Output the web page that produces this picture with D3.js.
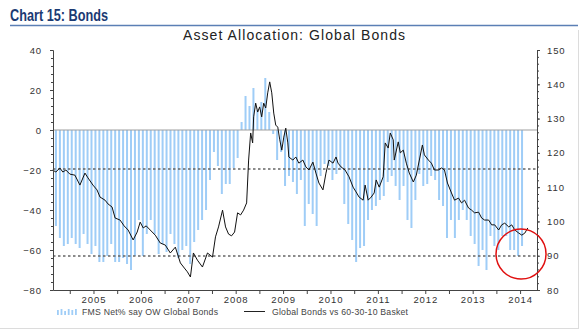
<!DOCTYPE html>
<html><head><meta charset="utf-8">
<script src="https://cdn.jsdelivr.net/npm/d3@7/dist/d3.min.js"></script>
<style>
body{margin:0;background:#fff}
svg{display:block}
text{font-family:"Liberation Sans",Arial,Helvetica,sans-serif}
</style>
</head><body>
<svg id="chart" width="583" height="333"></svg>
<script>
// ---------------- DATA ----------------
const headerText = "Chart 15: Bonds";
const titleText = "Asset Allocation: Global Bonds";
const barSeriesName = "FMS Net% say OW Global Bonds";
const lineSeriesName = "Global Bonds vs 60-30-10 Basket";

// monthly FMS net % overweight bonds, first survey ~Sep 2004
const fmsStart = 2004.708;
const fmsValues = [
  -48,-54,-58,-57,-54,-57,-59,-52,-57,-62,-58,-66,-66,-63,-57,-66,-66,-64,-67,-70,
  -63,-45,-63,-52,-45,-52,-62,-57,-61,-52,-57,-64,-60,-58,-67,-56,-50,-45,-40,
  -25,-11,-18,-32,-27,-27,-19,-14,4,17,12,21,10,14,26,9,-2,-15,-11,-28,
  -23,-26,-32,-25,-48,-37,-42,-48,-23,-17,-18,-25,-22,-20,-37,-47,-55,-66,-59,-58,
  -45,-40,-38,-35,-33,-26,-23,-28,-35,-28,-45,-49,-35,-22,-28,-27,-23,-25,-35,-38,
  -54,-45,-54,-45,-40,-45,-53,-57,-68,-60,-70,-53,-58,-60,-53,-53,-60,-60,-63,-58
];

// Global Bonds vs 60-30-10 basket (right axis)
const lineDates = [
  2004.642,2004.706,2004.790,2004.854,2004.917,2005.002,2005.108,2005.214,2005.320,2005.384,
  2005.489,2005.574,2005.638,2005.744,2005.807,2005.892,2005.956,2006.061,2006.146,2006.231,
  2006.337,2006.422,2006.485,2006.549,2006.612,2006.697,2006.803,2006.909,2007.015,2007.121,
  2007.227,2007.333,2007.417,2007.481,2007.545,2007.608,2007.693,2007.799,2007.905,2008.011,
  2008.074,2008.138,2008.223,2008.286,2008.350,2008.413,2008.477,2008.540,2008.604,2008.667,
  2008.731,2008.773,2008.816,2008.858,2008.879,2008.922,2008.964,2009.006,2009.049,2009.091,
  2009.134,2009.176,2009.218,2009.261,2009.303,2009.345,2009.388,2009.430,2009.473,2009.515,
  2009.557,2009.600,2009.621,2009.706,2009.769,2009.833,2009.917,2009.981,2010.045,2010.129,
  2010.193,2010.256,2010.341,2010.405,2010.468,2010.553,2010.617,2010.659,2010.723,2010.807,
  2010.892,2010.977,2011.040,2011.104,2011.189,2011.231,2011.295,2011.358,2011.422,2011.464,
  2011.528,2011.612,2011.655,2011.718,2011.761,2011.824,2011.845,2011.930,2011.973,2012.036,
  2012.100,2012.163,2012.248,2012.311,2012.375,2012.439,2012.481,2012.566,2012.629,2012.693,
  2012.778,2012.841,2012.905,2012.968,2013.053,2013.117,2013.201,2013.265,2013.328,2013.413,
  2013.477,2013.540,2013.625,2013.689,2013.752,2013.837,2013.900,2013.964,2014.049,2014.112,
  2014.176,2014.261,2014.324,2014.388,2014.473,2014.536,2014.600,2014.663
];
const lineValues = [
  115.0,114.4,115.6,114.4,115.0,113.8,113.5,110.6,114.1,112.7,
  110.6,109.2,107.1,106.2,105.1,104.2,101.0,100.4,98.7,97.5,
  94.6,96.9,99.8,98.1,98.7,97.5,96.0,93.7,93.1,90.8,
  92.5,87.9,86.4,85.3,83.8,90.8,88.7,86.7,90.8,89.6,
  95.5,98.4,103.3,98.4,96.3,95.8,96.9,102.5,101.9,103.3,
  105.4,117.9,125.8,122.9,130.5,134.5,131.9,133.4,130.5,134.5,
  133.1,137.5,140.7,137.5,131.6,128.1,127.5,123.8,120.8,124.6,
  127.2,122.9,118.8,117.9,118.8,117.0,117.9,115.9,115.0,117.3,
  114.1,111.2,109.2,114.1,117.9,117.0,118.8,117.0,115.9,115.0,
  113.0,110.0,108.6,107.1,106.2,110.6,106.2,107.1,108.3,112.1,
  110.0,113.0,122.9,121.4,125.8,123.8,117.9,123.2,120.0,120.8,
  117.0,114.1,111.5,113.5,117.9,122.3,119.4,117.9,117.0,115.0,
  115.0,115.6,115.0,111.2,108.3,106.2,106.8,105.4,106.2,103.9,
  103.3,102.5,102.7,101.0,100.4,100.4,99.0,99.0,97.5,99.0,
  99.5,98.4,99.0,97.5,96.6,96.0,96.6,98.1
];

const leftTicks = [-80,-60,-40,-20,0,20,40];
const rightTicks = [80,90,100,110,120,130,140,150];
const yearLabels = [2005,2006,2007,2008,2009,2010,2011,2012,2013,2014];
const refLevels = [-19.5,-63];          // dotted guide lines (left axis units)
const highlight = {year:2014.52, value:-62}; // red circle annotation

// ---------------- LAYOUT ----------------
const svg = d3.select("#chart");
const L = 53, R = 537, T = 50, B = 290;

const x = d3.scaleLinear().domain([2004.646, 2014.857]).range([L, R]);
const yL = d3.scaleLinear().domain([-80, 40]).range([B, T]);
const yR = d3.scaleLinear().domain([80, 150]).range([B, T]);

// header
svg.append("text").attr("x",10).attr("y",20.5)
  .attr("font-size",16.5).attr("font-weight","bold").attr("fill","#1b3a73")
  .attr("textLength",98).attr("lengthAdjust","spacingAndGlyphs")
  .text(headerText);
svg.append("line").attr("x1",10).attr("x2",578).attr("y1",25.5).attr("y2",25.5)
  .attr("stroke","#5b7fb5").attr("stroke-width",1.5);

// frame lines
svg.append("line").attr("x1",0).attr("x2",578).attr("y1",328.5).attr("y2",328.5)
  .attr("stroke","#dcdcdc").attr("stroke-width",1);
svg.append("line").attr("x1",578.5).attr("x2",578.5).attr("y1",30).attr("y2",329)
  .attr("stroke","#dcdcdc").attr("stroke-width",1);

// title
svg.append("text").attr("x",183).attr("y",40)
  .attr("font-size",14).attr("fill","#222")
  .attr("textLength",222).attr("lengthAdjust","spacing")
  .text(titleText);

// bars
const bars = fmsValues.map((v,i)=>({date: fmsStart + i/12, v}));
svg.append("g").selectAll("rect").data(bars).join("rect")
  .attr("x", d => x(d.date) - 1)
  .attr("width", 2)
  .attr("y", d => yL(Math.max(0, d.v)))
  .attr("height", d => Math.abs(yL(d.v) - yL(0)))
  .attr("fill", "#9fcdf7");

// zero line
svg.append("line").attr("x1",L).attr("x2",R).attr("y1",yL(0)).attr("y2",yL(0))
  .attr("stroke","#a0a0a0").attr("stroke-width",1.2);

// dotted guides
svg.append("g").selectAll("line").data(refLevels).join("line")
  .attr("x1",L).attr("x2",R).attr("y1",d=>yL(d)).attr("y2",d=>yL(d))
  .attr("stroke","#666").attr("stroke-width",1.3).attr("stroke-dasharray","2.5,2.5");

// line series
const lineData = lineDates.map((d,i)=>({date:d, v:lineValues[i]}));
svg.append("path").datum(lineData)
  .attr("fill","none").attr("stroke","#111").attr("stroke-width",1)
  .attr("stroke-linejoin","round")
  .attr("d", d3.line().x(d=>x(d.date)).y(d=>yR(d.v)));

// axes
function styleAxis(g){
  g.select(".domain").attr("stroke","#444");
  g.selectAll(".tick line").attr("stroke","#444");
  g.selectAll("text").attr("fill","#333").attr("font-size",9.5)
    .attr("letter-spacing","0.9px")
    .attr("font-family","'Liberation Sans',Arial,sans-serif");
}
// left
svg.append("g").attr("transform",`translate(${L},0)`)
  .call(d3.axisLeft(yL).tickValues(d3.range(-80,41,4)).tickSize(2).tickFormat("").tickSizeOuter(0))
  .call(styleAxis);
svg.append("g").attr("transform",`translate(${L},0)`)
  .call(d3.axisLeft(yL).tickValues(leftTicks).tickSize(3).tickPadding(8).tickSizeOuter(0))
  .call(styleAxis);
// right
svg.append("g").attr("transform",`translate(${R},0)`)
  .call(d3.axisRight(yR).tickValues(d3.range(80,151,2)).tickSize(2).tickFormat("").tickSizeOuter(0))
  .call(styleAxis);
svg.append("g").attr("transform",`translate(${R},0)`)
  .call(d3.axisRight(yR).tickValues(rightTicks).tickSize(3).tickPadding(7).tickSizeOuter(0))
  .call(styleAxis);
// bottom
const halfYears = d3.range(2005, 2014.51, 0.5);
svg.append("g").attr("transform",`translate(0,${B})`)
  .call(d3.axisBottom(x).tickValues(halfYears).tickSize(4).tickFormat("").tickSizeOuter(0))
  .call(styleAxis);
svg.append("g").attr("transform",`translate(0,${B})`)
  .call(d3.axisBottom(x).tickValues(yearLabels.map(y=>y+0.5)).tickSize(0).tickPadding(6)
        .tickFormat(d=>String(Math.floor(d))).tickSizeOuter(0))
  .call(styleAxis)
  .call(g=>g.select(".domain").remove());

// legend
const lg = svg.append("g");
const legendBars = [5,6,4,6,5,6];
lg.selectAll("rect").data(legendBars).join("rect")
  .attr("x",(d,i)=>57+i*3.6).attr("width",1.8)
  .attr("y",d=>315-d).attr("height",d=>d).attr("fill","#9fcdf7");
lg.append("text").attr("x",82).attr("y",315).attr("font-size",8.7).attr("fill","#444")
  .attr("textLength",136).attr("lengthAdjust","spacing").text(barSeriesName);
lg.append("line").attr("x1",244).attr("x2",265).attr("y1",311.5).attr("y2",311.5)
  .attr("stroke","#222").attr("stroke-width",1);
lg.append("text").attr("x",272).attr("y",315).attr("font-size",8.7).attr("fill","#444")
  .attr("textLength",136).attr("lengthAdjust","spacing").text(lineSeriesName);

// red circle annotation
svg.append("circle").attr("cx",x(highlight.year)).attr("cy",yL(highlight.value)).attr("r",25)
  .attr("fill","none").attr("stroke","#e01010").attr("stroke-width",1.5);
</script>
</body></html>
